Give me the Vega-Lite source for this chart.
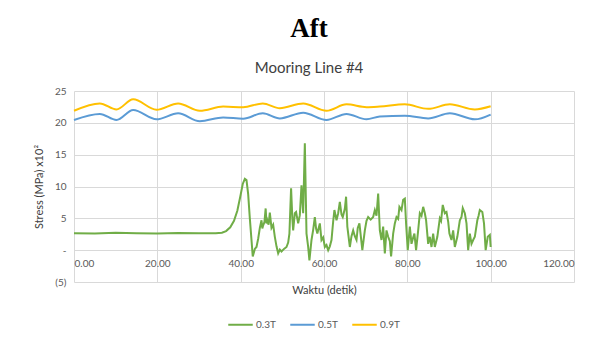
{
  "$schema": "https://vega.github.io/schema/vega-lite/v6.json",
  "autosize": {"type": "none"},
  "width": 500,
  "height": 191,
  "padding": {"left": 74, "top": 91, "right": 20, "bottom": 55},
  "background": "white",
  "title": {
    "text": "Aft",
    "subtitle": "Mooring Line #4",
    "anchor": "middle",
    "dx": -15,
    "font": "Liberation Serif",
    "fontSize": 27,
    "fontWeight": "bold",
    "color": "black",
    "subtitleFont": "Lato",
    "subtitleFontSize": 15,
    "subtitleColor": "#404040",
    "subtitlePadding": 18,
    "offset": 9
  },
  "config": {
    "font": "Lato",
    "view": {"stroke": null},
    "axis": {
      "gridColor": "#d9d9d9",
      "gridWidth": 1,
      "domain": false,
      "ticks": false,
      "labelColor": "#595959",
      "labelFontSize": 10,
      "labelFont": "Lato",
      "titleColor": "#404040",
      "titleFont": "Lato",
      "titleFontSize": 11,
      "titleFontWeight": "normal"
    }
  },
  "datasets": {
    "series": [
      {"t": 0, "v": 2.65, "s": "0.3T"}, {"t": 5, "v": 2.6, "s": "0.3T"}, {"t": 10, "v": 2.75, "s": "0.3T"}, {"t": 15, "v": 2.65, "s": "0.3T"}, {"t": 20, "v": 2.6, "s": "0.3T"}, {"t": 25, "v": 2.7, "s": "0.3T"}, {"t": 30, "v": 2.65, "s": "0.3T"}, {"t": 34, "v": 2.65, "s": "0.3T"}, {"t": 35.5, "v": 2.75, "s": "0.3T"}, {"t": 36.5, "v": 3.0, "s": "0.3T"}, {"t": 37.5, "v": 3.6, "s": "0.3T"}, {"t": 38.4, "v": 4.6, "s": "0.3T"}, {"t": 39.2, "v": 6.2, "s": "0.3T"}, {"t": 39.9, "v": 8.4, "s": "0.3T"}, {"t": 40.5, "v": 10.4, "s": "0.3T"}, {"t": 41.0, "v": 11.2, "s": "0.3T"}, {"t": 41.4, "v": 11.0, "s": "0.3T"}, {"t": 41.8, "v": 8.8, "s": "0.3T"}, {"t": 42.2, "v": 5.0, "s": "0.3T"}, {"t": 42.6, "v": 1.6, "s": "0.3T"}, {"t": 42.9, "v": -1.0, "s": "0.3T"}, {"t": 43.4, "v": 0.2, "s": "0.3T"}, {"t": 43.8, "v": 0.5, "s": "0.3T"}, {"t": 44.2, "v": 1.8, "s": "0.3T"}, {"t": 44.6, "v": 3.5, "s": "0.3T"}, {"t": 45.0, "v": 4.7, "s": "0.3T"}, {"t": 45.2, "v": 3.4, "s": "0.3T"}, {"t": 45.4, "v": 3.9, "s": "0.3T"}, {"t": 45.7, "v": 4.4, "s": "0.3T"}, {"t": 46.0, "v": 6.55, "s": "0.3T"}, {"t": 46.2, "v": 4.2, "s": "0.3T"}, {"t": 46.4, "v": 4.7, "s": "0.3T"}, {"t": 46.7, "v": 4.0, "s": "0.3T"}, {"t": 47.0, "v": 5.9, "s": "0.3T"}, {"t": 47.4, "v": 3.5, "s": "0.3T"}, {"t": 47.8, "v": 4.0, "s": "0.3T"}, {"t": 48.2, "v": 2.1, "s": "0.3T"}, {"t": 48.6, "v": 0.6, "s": "0.3T"}, {"t": 49.0, "v": -0.5, "s": "0.3T"}, {"t": 49.4, "v": 0.1, "s": "0.3T"}, {"t": 49.8, "v": -0.2, "s": "0.3T"}, {"t": 50.4, "v": 0.2, "s": "0.3T"}, {"t": 51.0, "v": 0.5, "s": "0.3T"}, {"t": 51.4, "v": 1.2, "s": "0.3T"}, {"t": 51.7, "v": 2.6, "s": "0.3T"}, {"t": 52.1, "v": 9.7, "s": "0.3T"}, {"t": 52.4, "v": 5.0, "s": "0.3T"}, {"t": 52.6, "v": 3.1, "s": "0.3T"}, {"t": 53.0, "v": 5.8, "s": "0.3T"}, {"t": 53.3, "v": 6.0, "s": "0.3T"}, {"t": 53.8, "v": 4.2, "s": "0.3T"}, {"t": 54.2, "v": 5.5, "s": "0.3T"}, {"t": 54.6, "v": 10.2, "s": "0.3T"}, {"t": 55.0, "v": 5.8, "s": "0.3T"}, {"t": 55.4, "v": 16.8, "s": "0.3T"}, {"t": 55.8, "v": 2.6, "s": "0.3T"}, {"t": 56.2, "v": 0.5, "s": "0.3T"}, {"t": 56.5, "v": -1.6, "s": "0.3T"}, {"t": 57.0, "v": 1.6, "s": "0.3T"}, {"t": 57.4, "v": 3.2, "s": "0.3T"}, {"t": 57.8, "v": 5.2, "s": "0.3T"}, {"t": 58.1, "v": 3.4, "s": "0.3T"}, {"t": 58.4, "v": 2.6, "s": "0.3T"}, {"t": 59.0, "v": 4.2, "s": "0.3T"}, {"t": 59.4, "v": 1.6, "s": "0.3T"}, {"t": 59.8, "v": 2.0, "s": "0.3T"}, {"t": 60.2, "v": 0.5, "s": "0.3T"}, {"t": 60.6, "v": 0.8, "s": "0.3T"}, {"t": 61.0, "v": 0, "s": "0.3T"}, {"t": 61.4, "v": 0.6, "s": "0.3T"}, {"t": 61.8, "v": 1.6, "s": "0.3T"}, {"t": 62.2, "v": 4.5, "s": "0.3T"}, {"t": 62.5, "v": 6.3, "s": "0.3T"}, {"t": 63.0, "v": 4.7, "s": "0.3T"}, {"t": 63.4, "v": 5.8, "s": "0.3T"}, {"t": 63.8, "v": 7.6, "s": "0.3T"}, {"t": 64.2, "v": 5.6, "s": "0.3T"}, {"t": 64.5, "v": 5.2, "s": "0.3T"}, {"t": 65.0, "v": 6.5, "s": "0.3T"}, {"t": 65.3, "v": 8.4, "s": "0.3T"}, {"t": 65.6, "v": 3.7, "s": "0.3T"}, {"t": 66.2, "v": 0.5, "s": "0.3T"}, {"t": 66.6, "v": 2.2, "s": "0.3T"}, {"t": 67.0, "v": 3.1, "s": "0.3T"}, {"t": 67.4, "v": 2.2, "s": "0.3T"}, {"t": 67.8, "v": 1.6, "s": "0.3T"}, {"t": 68.1, "v": 3.5, "s": "0.3T"}, {"t": 68.5, "v": 4.2, "s": "0.3T"}, {"t": 68.9, "v": 1.8, "s": "0.3T"}, {"t": 69.2, "v": 0, "s": "0.3T"}, {"t": 69.8, "v": 3.1, "s": "0.3T"}, {"t": 70.2, "v": 4.6, "s": "0.3T"}, {"t": 70.6, "v": 5.2, "s": "0.3T"}, {"t": 71.2, "v": 4.8, "s": "0.3T"}, {"t": 71.8, "v": 5.2, "s": "0.3T"}, {"t": 72.2, "v": 6.3, "s": "0.3T"}, {"t": 72.6, "v": 5.4, "s": "0.3T"}, {"t": 73.0, "v": 8.9, "s": "0.3T"}, {"t": 73.4, "v": 3.1, "s": "0.3T"}, {"t": 73.8, "v": 1.6, "s": "0.3T"}, {"t": 74.2, "v": 3.7, "s": "0.3T"}, {"t": 74.6, "v": -0.5, "s": "0.3T"}, {"t": 75.0, "v": 3.1, "s": "0.3T"}, {"t": 75.4, "v": 2.1, "s": "0.3T"}, {"t": 75.8, "v": 1.4, "s": "0.3T"}, {"t": 76.1, "v": -1.0, "s": "0.3T"}, {"t": 76.6, "v": 2.6, "s": "0.3T"}, {"t": 77.0, "v": 4.2, "s": "0.3T"}, {"t": 77.4, "v": 5.2, "s": "0.3T"}, {"t": 77.8, "v": 4.9, "s": "0.3T"}, {"t": 78.1, "v": 6.8, "s": "0.3T"}, {"t": 78.6, "v": 6.3, "s": "0.3T"}, {"t": 79.0, "v": 7.9, "s": "0.3T"}, {"t": 79.4, "v": 8.1, "s": "0.3T"}, {"t": 79.7, "v": 4.2, "s": "0.3T"}, {"t": 80.1, "v": 0, "s": "0.3T"}, {"t": 80.6, "v": 3.7, "s": "0.3T"}, {"t": 81.0, "v": 1.0, "s": "0.3T"}, {"t": 81.4, "v": 2.0, "s": "0.3T"}, {"t": 81.7, "v": 2.6, "s": "0.3T"}, {"t": 82.1, "v": 0, "s": "0.3T"}, {"t": 82.6, "v": 3.1, "s": "0.3T"}, {"t": 83.0, "v": 5.8, "s": "0.3T"}, {"t": 83.4, "v": 5.4, "s": "0.3T"}, {"t": 83.8, "v": 6.8, "s": "0.3T"}, {"t": 84.2, "v": 5.8, "s": "0.3T"}, {"t": 84.5, "v": 4.7, "s": "0.3T"}, {"t": 85.0, "v": 1.0, "s": "0.3T"}, {"t": 85.4, "v": 2.1, "s": "0.3T"}, {"t": 85.8, "v": 0.5, "s": "0.3T"}, {"t": 86.2, "v": 2.6, "s": "0.3T"}, {"t": 86.6, "v": 0.5, "s": "0.3T"}, {"t": 87.2, "v": 2.1, "s": "0.3T"}, {"t": 87.8, "v": 5.0, "s": "0.3T"}, {"t": 88.1, "v": 4.6, "s": "0.3T"}, {"t": 88.5, "v": 7.1, "s": "0.3T"}, {"t": 89.0, "v": 5.8, "s": "0.3T"}, {"t": 89.4, "v": 6.0, "s": "0.3T"}, {"t": 89.8, "v": 4.5, "s": "0.3T"}, {"t": 90.1, "v": 2.6, "s": "0.3T"}, {"t": 90.6, "v": 1.6, "s": "0.3T"}, {"t": 91.0, "v": 3.1, "s": "0.3T"}, {"t": 91.4, "v": 0.5, "s": "0.3T"}, {"t": 92.0, "v": 2.1, "s": "0.3T"}, {"t": 92.6, "v": 4.7, "s": "0.3T"}, {"t": 93.0, "v": 5.2, "s": "0.3T"}, {"t": 93.3, "v": 6.6, "s": "0.3T"}, {"t": 93.8, "v": 5.8, "s": "0.3T"}, {"t": 94.2, "v": 4.2, "s": "0.3T"}, {"t": 94.6, "v": 0, "s": "0.3T"}, {"t": 95.0, "v": 2.6, "s": "0.3T"}, {"t": 95.4, "v": 1.0, "s": "0.3T"}, {"t": 95.8, "v": 1.6, "s": "0.3T"}, {"t": 96.2, "v": 2.1, "s": "0.3T"}, {"t": 96.8, "v": 4.7, "s": "0.3T"}, {"t": 97.1, "v": 5.4, "s": "0.3T"}, {"t": 97.4, "v": 6.3, "s": "0.3T"}, {"t": 98.0, "v": 6.0, "s": "0.3T"}, {"t": 98.4, "v": 4.2, "s": "0.3T"}, {"t": 98.8, "v": 0, "s": "0.3T"}, {"t": 99.3, "v": 2.1, "s": "0.3T"}, {"t": 99.8, "v": 2.4, "s": "0.3T"}, {"t": 100, "v": 0.5, "s": "0.3T"},
      {"t": 0, "v": 20.45, "s": "0.5T"}, {"t": 6.2, "v": 21.4, "s": "0.5T"}, {"t": 10.2, "v": 20.45, "s": "0.5T"}, {"t": 14.2, "v": 22.0, "s": "0.5T"}, {"t": 19.8, "v": 20.55, "s": "0.5T"}, {"t": 25.0, "v": 21.5, "s": "0.5T"}, {"t": 30.2, "v": 20.25, "s": "0.5T"}, {"t": 35.8, "v": 20.85, "s": "0.5T"}, {"t": 40.6, "v": 20.65, "s": "0.5T"}, {"t": 45.3, "v": 21.5, "s": "0.5T"}, {"t": 49.4, "v": 20.7, "s": "0.5T"}, {"t": 55.0, "v": 21.6, "s": "0.5T"}, {"t": 60.6, "v": 20.45, "s": "0.5T"}, {"t": 65.4, "v": 21.4, "s": "0.5T"}, {"t": 70.2, "v": 20.55, "s": "0.5T"}, {"t": 73.4, "v": 21.0, "s": "0.5T"}, {"t": 79.4, "v": 21.1, "s": "0.5T"}, {"t": 85.0, "v": 20.7, "s": "0.5T"}, {"t": 90.2, "v": 21.5, "s": "0.5T"}, {"t": 96.2, "v": 20.55, "s": "0.5T"}, {"t": 100, "v": 21.3, "s": "0.5T"},
      {"t": 0, "v": 21.9, "s": "0.9T"}, {"t": 6.2, "v": 23.05, "s": "0.9T"}, {"t": 10.2, "v": 22.1, "s": "0.9T"}, {"t": 14.2, "v": 23.7, "s": "0.9T"}, {"t": 19.8, "v": 22.05, "s": "0.9T"}, {"t": 25.0, "v": 23.05, "s": "0.9T"}, {"t": 30.2, "v": 21.9, "s": "0.9T"}, {"t": 35.8, "v": 22.55, "s": "0.9T"}, {"t": 40.6, "v": 22.45, "s": "0.9T"}, {"t": 45.3, "v": 23.05, "s": "0.9T"}, {"t": 49.4, "v": 22.3, "s": "0.9T"}, {"t": 55.0, "v": 23.05, "s": "0.9T"}, {"t": 60.6, "v": 21.9, "s": "0.9T"}, {"t": 65.4, "v": 22.9, "s": "0.9T"}, {"t": 70.2, "v": 22.45, "s": "0.9T"}, {"t": 73.4, "v": 22.55, "s": "0.9T"}, {"t": 79.4, "v": 22.9, "s": "0.9T"}, {"t": 85.0, "v": 22.2, "s": "0.9T"}, {"t": 90.2, "v": 22.9, "s": "0.9T"}, {"t": 96.2, "v": 22.1, "s": "0.9T"}, {"t": 100, "v": 22.6, "s": "0.9T"}
    ]
  },
  "data": {"name": "series"},
  "encoding": {
    "x": {
      "field": "t",
      "type": "quantitative",
      "scale": {"domain": [0, 120], "nice": false},
      "axis": {
        "values": [0, 20, 40, 60, 80, 100, 120],
        "format": ".2f",
        "title": "Waktu (detik)",
        "offset": -32,
        "labelPadding": 8,
        "titlePadding": 16
      }
    },
    "y": {
      "field": "v",
      "type": "quantitative",
      "scale": {"domain": [-5, 25], "nice": false, "zero": false},
      "axis": {
        "values": [-5, 0, 5, 10, 15, 20, 25],
        "labelExpr": "datum.value == 0 ? '-' : (datum.value < 0 ? '(' + abs(datum.value) + ')' : datum.label)",
        "title": "Stress (MPa) x10²",
        "labelPadding": 8,
        "titlePadding": 10
      }
    },
    "color": {
      "field": "s",
      "type": "nominal",
      "scale": {"domain": ["0.3T", "0.5T", "0.9T"], "range": ["#70ad47", "#5b9bd5", "#ffc000"]},
      "legend": {
        "title": null,
        "orient": "none",
        "legendX": 153,
        "legendY": 220,
        "direction": "horizontal",
        "symbolType": "stroke",
        "symbolSize": 600,
        "symbolStrokeWidth": 2,
        "labelFontSize": 10,
        "labelColor": "#595959",
        "labelFont": "Lato",
        "columnPadding": 10,
        "labelOffset": 2
      }
    }
  },
  "layer": [
    {"transform": [{"filter": "datum.s == '0.3T'"}], "mark": {"type": "line", "strokeWidth": 2, "interpolate": "linear"}},
    {"transform": [{"filter": "datum.s != '0.3T'"}], "mark": {"type": "line", "strokeWidth": 2, "interpolate": "monotone"}}
  ]
}
